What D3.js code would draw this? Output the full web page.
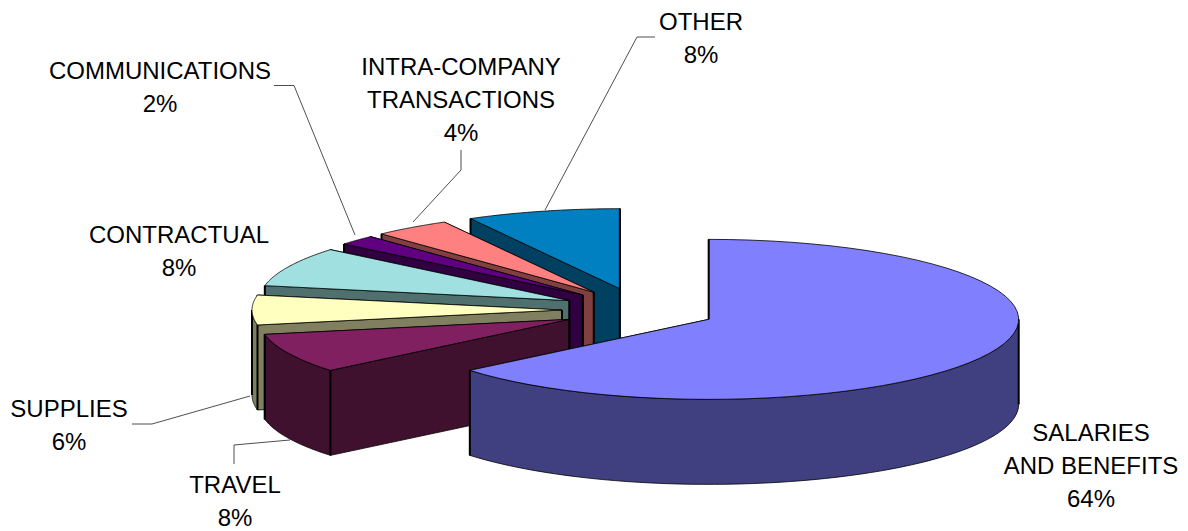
<!DOCTYPE html>
<html>
<head>
<meta charset="utf-8">
<title>Expenditures by category</title>
<script src="https://cdn.jsdelivr.net/npm/d3@7"></script>
<style>
  html, body { margin: 0; padding: 0; background: #fff; }
  svg { display: block; }
  text { font-family: "Liberation Sans", Arial, sans-serif; font-size: 24px; fill: #000; text-anchor: middle; }
</style>
</head>
<body>
<svg id="chart" width="1188" height="531"></svg>
<script>
// Expense categories, clockwise from twelve o'clock
const categories = ["SALARIES AND BENEFITS", "TRAVEL", "SUPPLIES", "CONTRACTUAL", "COMMUNICATIONS", "INTRA-COMPANY TRANSACTIONS", "OTHER"];
const shares = [64, 8, 6, 8, 2, 4, 8];
const topColors = ["#8080FF", "#802060", "#FFFFC0", "#A0E0E0", "#600080", "#FF8080", "#0080C0"];
const wallColors = ["#404080", "#40102F", "#808060", "#507070", "#300040", "#804040", "#004060"];

// Wrapped label lines and their placement
const labelLines = [
  ["SALARIES", "AND BENEFITS", "64%"],
  ["TRAVEL", "8%"],
  ["SUPPLIES", "6%"],
  ["CONTRACTUAL", "8%"],
  ["COMMUNICATIONS", "2%"],
  ["INTRA-COMPANY", "TRANSACTIONS", "4%"],
  ["OTHER", "8%"]
];
const labelAnchors = [[1091, 441], [235, 493], [69, 417], [179, 243], [160, 79], [461, 75], [701, 30]];
const leaders = [
  null,
  [[234, 464], [234, 445], [290, 440]],
  [[132, 424], [152, 424], [250, 396]],
  null,
  [[274, 85.5], [294, 85.5], [355, 235]],
  [[461, 150], [461, 170], [413, 222]],
  [[655, 37], [637, 37], [545, 210]]
];

const centerX = 639, centerY = 310;
const radiusX = 310, radiusY = 80;
const explodeX = 77, explodeY = 22;
const depth = 85;
const lineGap = 33;

const svg = d3.select("#chart");
const tau = 2 * Math.PI;
const toPath = d3.line();

// Unit circle to the flattened ellipse of the tilted pie
const sx = d3.scaleLinear().domain([-1, 1]).range([-radiusX, radiusX]);
const sy = d3.scaleLinear().domain([-1, 1]).range([-radiusY, radiusY]);

const slices = d3.pie().sort(null).startAngle(0).endAngle(tau).value(d => d)(shares).map((s, i) => {
  const mid = (s.startAngle + s.endAngle) / 2;
  return {
    ...s, i,
    cx: centerX + Math.sin(mid) * explodeX,
    cy: centerY - Math.cos(mid) * explodeY
  };
});

const rim = (s, a) => [s.cx + sx(Math.sin(a)), s.cy - sy(Math.cos(a))];
const drop = p => [p[0], p[1] + depth];
const arcPoints = (s, a0, a1) => d3.range(0, 61).map(k => rim(s, a0 + (a1 - a0) * k / 60));

const group = svg.append("g");

// Painter's order: the back slices go first, the big front slice last
slices.slice().reverse().forEach(s => {
  const g = group.append("g");
  const fill = wallColors[s.i], top = topColors[s.i];
  const apex = [s.cx, s.cy];
  const start = rim(s, s.startAngle), end = rim(s, s.endAngle);
  const wall = pts => g.append("path")
    .attr("d", toPath(pts) + "Z")
    .attr("fill", fill).attr("stroke", "#000").attr("stroke-width", 0.8).attr("stroke-linejoin", "round");
  const heavy = (a, b) => g.append("path").attr("d", toPath([a, b]))
    .attr("fill", "none").attr("stroke", "#000").attr("stroke-width", 2);

  const a0 = Math.max(s.startAngle, tau / 4), a1 = Math.min(s.endAngle, 3 * tau / 4);
  const hasRim = a1 > a0;

  // Cut faces; the trailing one sits behind the leading one
  wall([apex, end, drop(end), drop(apex)]);
  if (s.i > 0) heavy(end, drop(end));
  wall([apex, start, drop(start), drop(apex)]);
  if (s.i > 0) heavy(apex, drop(apex));

  // Rounded outer wall, only where it faces the viewer
  if (hasRim) {
    const pts = arcPoints(s, a0, a1);
    wall(pts.concat(pts.slice().reverse().map(drop)));
    heavy(rim(s, a0), drop(rim(s, a0)));
    heavy(rim(s, a1), drop(rim(s, a1)));
  } else if (s.i > 0) {
    heavy(start, drop(start));
  }

  // Top face
  g.append("path")
    .attr("d", toPath([apex].concat(arcPoints(s, s.startAngle, s.endAngle))) + "Z")
    .attr("fill", top).attr("stroke", "#000").attr("stroke-width", 0.8).attr("stroke-linejoin", "round");

  // A cut edge that runs straight back reads as a heavier line
  if (Math.abs(Math.sin(s.startAngle)) < 1e-6) heavy(apex, start);
  if (Math.abs(Math.sin(s.endAngle)) < 1e-6) heavy(apex, end);
});

// Leader lines from labels to slices
svg.append("g").selectAll("path")
  .data(leaders.filter(Boolean))
  .join("path")
  .attr("d", d => toPath(d))
  .attr("fill", "none").attr("stroke", "#222").attr("stroke-width", 0.8);

// Category and percentage labels
const labels = svg.append("g").selectAll("text")
  .data(categories)
  .join("text")
  .attr("data-category", d => d)
  .attr("x", (d, i) => labelAnchors[i][0])
  .attr("y", (d, i) => labelAnchors[i][1]);

labels.selectAll("tspan")
  .data((d, i) => labelLines[i].map((line, k) => ({ line, k, x: labelAnchors[i][0], y: labelAnchors[i][1] })))
  .join("tspan")
  .attr("x", d => d.x)
  .attr("y", d => d.y + d.k * lineGap)
  .text(d => d.line);
</script>
</body>
</html>
